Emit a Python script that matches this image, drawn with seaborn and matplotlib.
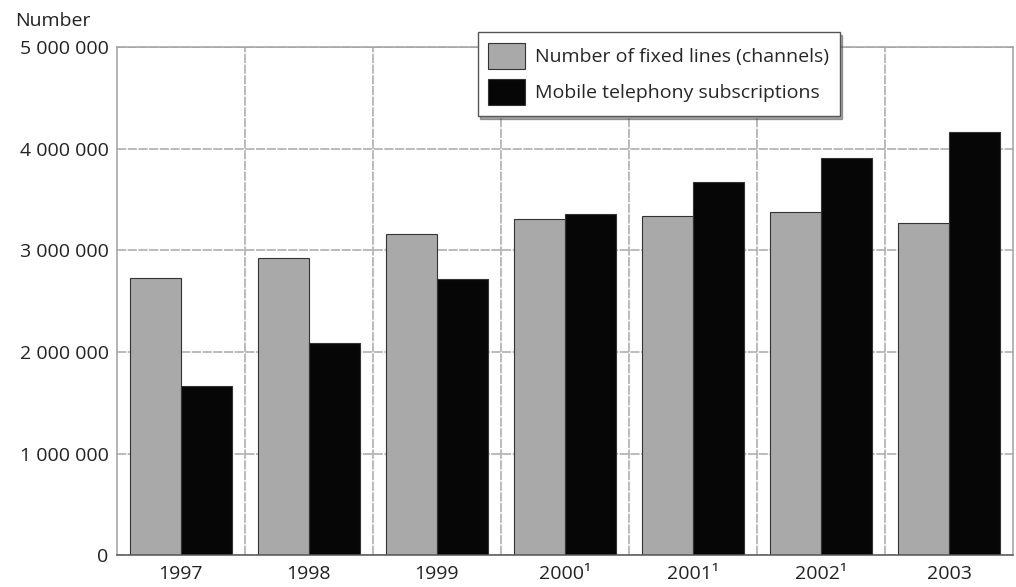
import matplotlib
matplotlib.use("Agg")
import matplotlib.pyplot as plt
import seaborn as sns
import pandas as pd

years = ["1997", "1998", "1999", "2000¹", "2001¹", "2002¹", "2003"]
fixed_lines = [2726000, 2923000, 3160000, 3307000, 3334000, 3376000, 3268000]
mobile_subs = [1663000, 2087000, 2717000, 3356000, 3671000, 3907000, 4163000]
series = ["Number of fixed lines (channels)", "Mobile telephony subscriptions"]

df = pd.DataFrame({
    "Year": years * 2,
    "Value": fixed_lines + mobile_subs,
    "Series": [series[0]] * len(years) + [series[1]] * len(years),
})

sns.set_style("white")
plt.rcParams["font.family"] = ["Open Sans", "DejaVu Sans"]

fig = plt.figure(figsize=(10.16, 5.87), dpi=100)
ax = fig.add_axes([0.115, 0.054, 0.882, 0.866])

sns.barplot(data=df, x="Year", y="Value", hue="Series",
            palette=["#a9a9a9", "#060606"], edgecolor="#333333",
            linewidth=0.8, width=0.8, ax=ax, legend=True)

ax.set_ylim(0, 5000000)
ax.set_xlim(-0.5, len(years) - 0.5)
ax.set_yticks(range(0, 5000001, 1000000))
ax.set_yticklabels(["0", "1 000 000", "2 000 000", "3 000 000", "4 000 000", "5 000 000"])
ax.set_xticks(range(len(years)))
ax.set_xticklabels(years)
ax.set_xticks([i + 0.5 for i in range(len(years) - 1)], minor=True)
ax.tick_params(axis="both", labelsize=14, colors="#222222", length=0)
ax.tick_params(axis="y", pad=6)
ax.tick_params(axis="x", pad=7)
ax.set_xlabel("")
ax.set_ylabel("")

ax.set_axisbelow(True)
ax.grid(axis="y", which="major", color="#a8a8a8", linewidth=1.1, linestyle=(0, (6, 1)))
ax.grid(axis="x", which="minor", color="#a8a8a8", linewidth=1.1, linestyle=(0, (6, 1)))
ax.grid(axis="x", which="major", visible=False)
for side in ["left", "right", "top", "bottom"]:
    ax.spines[side].set_visible(True)
    ax.spines[side].set_color("#a0a0a0")
    ax.spines[side].set_linewidth(1.1)
ax.spines["bottom"].set_color("#555555")

ax.legend(loc="upper left", bbox_to_anchor=(0.47, 0.945), bbox_transform=fig.transFigure,
          borderaxespad=0, fontsize=14, frameon=True, fancybox=False, shadow=True,
          edgecolor="#555555", framealpha=1, handlelength=1.9, handleheight=1.7,
          handletextpad=0.5, borderpad=0.55, labelspacing=0.5)

fig.text(0.015, 0.965, "Number", fontsize=14, color="#222222", va="center")

fig.savefig("out.png", dpi=100)
